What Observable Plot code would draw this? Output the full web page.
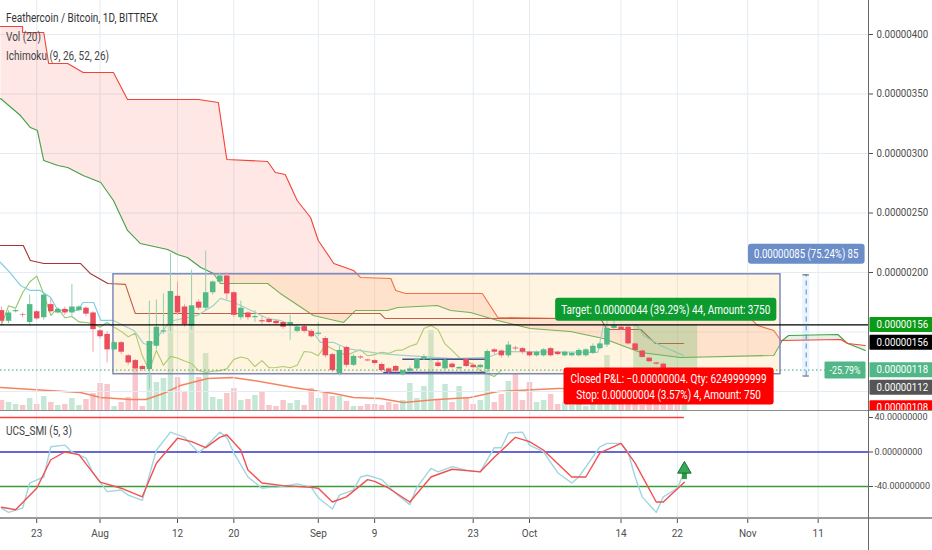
<!DOCTYPE html>
<html><head><meta charset="utf-8">
<script src="https://cdn.jsdelivr.net/npm/d3@7"></script>
<script src="https://cdn.jsdelivr.net/npm/@observablehq/plot@0.6"></script>
<style>
html,body{margin:0;padding:0;background:#fff;}
#chart{position:relative;width:932px;height:550px;overflow:hidden;font-family:Roboto,sans-serif;}
#chart svg{position:absolute;left:0;}
.legend{position:absolute;left:6px;font-size:12.5px;line-height:14px;color:#444;transform:scaleX(0.8);transform-origin:left;white-space:nowrap;z-index:5;}
.line{position:absolute;z-index:6;}
</style></head><body><div id="chart"></div><script>
// ---------- DATA (prices in 1e-8 BTC, days counted from 2019-07-18) ----------
const open  = [168,159,167,164.5,158,167,162,173,166,169, 166,168,170,166,151,148,135,141,130,126, 121,118.5,138,150,156,180,171,155,175,170, 183,192,197,183,162,166,162,159.5,160.5,159, 158,156,150.5,154.5,150.5,148,144.5,131,115,137, 122,129,126.5,126,122.7,119,121,114,117,119, 127,126.8,124,119,123,119,127,122,120,118.5, 135,134,130,136.5,136,133,130,130,136,133, 130,130,130,130,132,136,139,153,154,154, 140,134,128,124,123,119,116,112];
const high  = [171,168,169,166,181,168,183,178,170,171, 190,172,171,167,152,150,142,142,131,127, 122,176,177,182,216,192,173,202,177,218, 193,199,200,184,176,167,168,163,162,160, 159,164,156,156,152,158,146,132,138,138, 131,130,127,127,124,120,122,118,121,128, 131,129,126,127,124,121,128,123,123,135, 136,135,142,138,137,134,134,136,137,134, 134,133,136,136,140,141,160,161,156,155, 141,135,129,125,124,120,117,119];
const low   = [157,157,166,162,155,160,160,166,165,164, 162,167,163,133,144,124,134,131,122,118, 117,102,135,148,150,164,154,152,168,168, 181,190,177,162,160,160,158,156,157,156, 152,143,149,149,145,146,128,116,113,120, 121,127,125,122,116,115,116,113,116,118, 126,125,120,118,119,118,120,119,119,116, 131,128,128,134,131,129,129,129,129,130, 129,129,129,129,131,135,137,152,151,139, 134,128,124,122,116,113,111,111];
const close = [159,166,168,164,173,161,181,167,169,166, 171,171,165,152,146,135,141,133,124,119, 118.5,142,154,151,184,166,156,172,170,183, 192,197,182,164,170,162,163,158.5,158,157, 154,158,154,150.5,146,149,130,117.6,134.5,122, 129.5,128.2,125.7,123.5,117.6,116,117,117.5,119,127, 129,127.5,121,126,120,120.2,121,120,122,133.6, 133,130,139,135.8,133,130,133,135,130,131, 133,132,134.5,135,138,140,153,155.5,152,140, 134.5,128.6,125,123,117.6,115,112.6,118];
const volume = [10,8,6,5,12,6,14,8,5,6, 12,5,11,17,27,26,4,8,13,44, 4,35,28,32,100,33,18,90,33,57, 13,11,17,22,10,11,15,19,5,4, 10,7,10,5,22,12,17,14,14,9, 4,4,6,6,5,8,6,10,27,12, 24,80,10,26,8,24,12,6,10,40, 8,16,29,36,10,28,8,10,16,6, 8,5,6,4,6,10,55,12,10,8, 6,5,14,8,6,16,6,8];
const volMaDay   = [-0.14,11.2,14.1,18.3,20.5,23,25.4,29.3,32.8,35.8,41.5,47.2,50,53.8,57.1,61.9,66.6,70.5,76.1,79,85,90.8,97];
const volMaValue = [23,18,13,11,11,17,25,32,33,30,23,17,13,12,8,11,13,19,21,22,22,21,22];

const tenkanDay   = [-0.14,1.3,2.7,4.1,5.5,7,8,10.8,11.6,13.1,14.1,15.9,18.8,20.2,21.2,24,27.8,30.1,31.1,33,34,37.8,39.6,44.3,45.3,47.2,49.1,53.8,57.1,64.2,69,71.3,84.7,85.5,90.3,91.2,93.6,96.9];
const tenkanValue = [208.4,199.2,189.1,184.9,184.9,179,168.1,168.1,174.8,174.8,159.7,159.7,151.3,140.3,138.7,159,163.9,172.3,178.2,174.8,172.3,161.3,159.7,149.6,141.2,141.2,136.1,131.9,130.3,127.7,128.6,133.6,132.8,155.5,155.5,147.1,138.7,130.3];
const kijunDay    = [-0.14,3.1,4.1,6,11.2,12.6,15.1,17.6,19,53.8,54.5,85.1,86,90.8,92.9,96.9];
const kijunValue  = [222.7,222.7,210.1,207.6,207.6,199.2,190.8,190,165.5,165.5,161.3,161.3,152.1,152.1,140.3,140.3];
const spanADay    = [-0.14,2.7,4.1,5.1,6,8,9.4,11.6,14.1,15.9,17.9,19.7,23.6,25,26.4,28.3,30.1,31.1,37.8,39.6,44.3,48.6,50.3,54.8,56.3,61.9,63.8,66.6,70.5,75.1,80.8,85.5,90.8,96.4,109.7,110.9,111.8,118.8,120.2,122.7];
const spanAValue  = [346.2,331.9,321.8,319.3,294.1,289.9,288.2,281.5,275.6,260.5,235.3,224.4,219.3,215.1,212.6,204.2,199.2,190.8,190.8,182.4,163.9,158,168.1,168.1,170.6,172.3,168.1,166.4,159.7,152.9,150.4,144.5,132.8,128.6,130.3,142.9,147.1,147.9,140.3,134.5];
const spanBDay    = [-0.14,3,3,6,6.7,9.4,11.6,15.9,17.9,28,30.8,32,37.8,38.9,40.3,42,43.9,45,47.2,50,51,55.3,56,57.4,68.3,70.5,79.8,106.4,107.4,109.7,110.7,119.2,120.2,122.7];
const spanBValue  = [406.7,406.7,401.7,401.7,375.6,375.6,368.1,368.1,345.4,345.4,342.9,295,293.3,284,282.3,260.5,246.2,226.9,207.6,201.7,195.8,195,184.9,182.4,182.4,162.2,161.3,161.3,155.5,151.3,142.9,143.7,140.3,138.7];
const laggingShift = 26;

const smiDay      = [0,1,3,4,6,7,9,10,12,13,15,17,18,20,22,24,26,28,29,31,32,33,35,37,38,39,42,44,45,47,48,50,51,52,54,56,58,59,61,62,64,66,68,70,71,72,74,75,77,79,81,82,85,86,88,89,90,91,93,94,96,97];
const smiValue    = [-65,-70,-65,-36,-29,6,8,0,-7,-24,-46,-44,-50,-56,2,23,17,-1,6,23,17,-1,-29,-42,-41,-41,-37,-41,-53,-66,-50,-44,-29,-27,-32,-48,-61,-41,-19,-23,-17,-21,-23,5,5,22,23,8,0,-24,-36,-29,6,10,10,0,-29,-52,-70,-52,-42,-23];
const signalDay   = [0,2,5,7,9,11,14,17,20,22,25,27,29,31,32,34,35,37,40,44,45,47,49,52,53,55,58,61,64,68,70,73,75,77,81,83,85,88,90,93,94,97];
const signalValue = [-64,-67,-42,-9,0,-3,-35,-42,-52,-13,16,12,5,17,20,2,-21,-36,-39,-41,-42,-58,-52,-32,-34,-42,-58,-29,-20,-23,-6,17,12,2,-29,-29,-1,10,-13,-58,-58,-35];
const smiLevels   = [40, 0, -40];
const smiArrow    = [{day: 97, value: -20}];

const timeTicks  = ["2019-07-23","2019-08-01","2019-08-12","2019-08-20","2019-09-01","2019-09-09","2019-09-23","2019-10-01","2019-10-14","2019-10-22","2019-11-01","2019-11-11"];
const priceTicks = [200, 250, 300, 350, 400];
const gridPrices = [100, 150, 200, 250, 300, 350, 400];

// drawings
const hLinePrice = 156;
const rectDrawing = {dayStart: 15.9, dayEnd: 110.65, low: 114.5, high: 198.5};
const channelLines = [{d1: 57, d2: 68.8, price: 127}, {d1: 54.3, d2: 68.8, price: 116}];
const position = {dayStart: 89.8, dayEnd: 98.9, entry: 112, target: 156, stop: 108};
const measure = {day: 114.3, from: 113, to: 198};
const axisTagValues = [156, 156, 118, 112, 108];
const labelTexts = {
  target: "Target: 0.00000044 (39.29%) 44, Amount: 3750",
  stop: "Closed P&L: \u22120.00000004. Qty: 6249999999\nStop: 0.00000004 (3.57%) 4, Amount: 750",
  measure: "0.00000085 (75.24%) 85",
  pct: "-25.79%"
};

// ---------- BUILD ----------
const t0 = Date.UTC(2019, 6, 18);
const day = d => new Date(t0 + d * 864e5);
const xDomain = [day(-0.142), day(123.15)];
const fmt8 = v => (v / 1e8).toFixed(8);
const GRID = "#e4ebf2";
const W = 932, MR = 64;

const candles = open.map((o, i) => ({date: day(i), open: o, high: high[i], low: low[i], close: close[i], volume: volume[i]}));
const ups = candles.filter(c => c.close >= c.open), downs = candles.filter(c => c.close < c.open);
const series = (ds, vs) => ds.map((d, i) => ({d, date: day(d), value: vs[i]}));
const tenkan = series(tenkanDay, tenkanValue), kijun = series(kijunDay, kijunValue);
const spanA = series(spanADay, spanAValue), spanB = series(spanBDay, spanBValue);
const volMa = series(volMaDay, volMaValue);
const lagging = close.slice(laggingShift).map((c, j) => ({date: day(j), value: c}));
const cross = 110.8;
const pinkCloud = [...spanB.filter(p => p.d <= cross), ...spanA.filter(p => p.d <= cross).reverse()];
const greenCloud = [...spanA.filter(p => p.d >= cross), ...spanB.filter(p => p.d >= cross).reverse()];
const smi = series(smiDay, smiValue), signal = series(signalDay, signalValue);
const tickDates = timeTicks.map(d => new Date(d));
const current = close[close.length - 1];

const chart = document.getElementById("chart");

// volume layer (bottom)
const volPlot = Plot.plot({
  width: W, height: 410, marginLeft: 0, marginRight: MR, marginTop: 0, marginBottom: 0,
  x: {type: "utc", domain: xDomain, axis: null},
  y: {domain: [0, 410], axis: null},
  style: {background: "transparent", overflow: "visible"},
  marks: [
    Plot.ruleX(ups, {x: "date", y1: 0, y2: "volume", stroke: "#53b987", strokeOpacity: 0.34, strokeWidth: 5.5}),
    Plot.ruleX(downs, {x: "date", y1: 0, y2: "volume", stroke: "#eb4d5c", strokeOpacity: 0.32, strokeWidth: 5.5}),
    Plot.line(volMa, {x: "date", y: "value", stroke: "#f4845f", strokeWidth: 1.4})
  ]
});
volPlot.style.top = "0px";
chart.appendChild(volPlot);

const pMid = d => day((d.dayStart + d.dayEnd) / 2);
const tagColors = ["#0b9a15", "#000000", "#52b788", "#555555", "#ff0000"];
const tagShift = [0, 17.6, 0, 10.3, 26];

const mainPlot = Plot.plot({
  width: W, height: 410, marginLeft: 0, marginRight: MR, marginTop: 0, marginBottom: 0,
  x: {type: "utc", domain: xDomain, axis: null},
  y: {domain: [84.03, 428.57]},
  style: {background: "transparent", overflow: "visible", fontFamily: "Roboto, sans-serif", fontSize: "10px", color: "#4d4d4d"},
  marks: [
    Plot.ruleX(tickDates, {stroke: GRID}),
    Plot.ruleY(gridPrices, {stroke: GRID}),
    Plot.line(pinkCloud, {x: "date", y: "value", fill: "#f44336", fillOpacity: 0.13, stroke: "none"}),
    Plot.line(greenCloud, {x: "date", y: "value", fill: "#4caf50", fillOpacity: 0.15, stroke: "none"}),
    Plot.line(spanA, {x: "date", y: "value", stroke: "#43a047", strokeWidth: 1.1}),
    Plot.line(spanB, {x: "date", y: "value", stroke: "#f44336", strokeWidth: 1.1}),
    Plot.line(lagging, {x: "date", y: "value", stroke: "#8fc766", strokeWidth: 1.1}),
    Plot.line(kijun, {x: "date", y: "value", stroke: "#a83232", strokeWidth: 1.1}),
    Plot.line(tenkan, {x: "date", y: "value", stroke: "#7fcfe0", strokeWidth: 1.2}),
    Plot.rect([rectDrawing], {x1: d => day(d.dayStart), x2: d => day(d.dayEnd), y1: "low", y2: "high", fill: "#ffd98c", fillOpacity: 0.28}),
    Plot.rect([rectDrawing], {x1: d => day(d.dayStart), x2: d => day(d.dayEnd), y1: "low", y2: "high", fill: "none", stroke: "#7f88bd", strokeWidth: 1.5}),
    Plot.ruleY(channelLines, {x1: d => day(d.d1), x2: d => day(d.d2), y: "price", stroke: "#4a4f8c", strokeWidth: 1.5}),
    Plot.rect([position], {x1: d => day(d.dayStart), x2: d => day(d.dayEnd), y1: "entry", y2: "target", fill: "#4caf50", fillOpacity: 0.25}),
    Plot.rect([position], {x1: d => day(d.dayStart), x2: d => day(d.dayEnd), y1: "stop", y2: "entry", fill: "#f44336", fillOpacity: 0.25}),
    Plot.ruleX(ups, {x: "date", y1: "low", y2: "high", stroke: "#8fd0b2", strokeWidth: 1}),
    Plot.ruleX(downs, {x: "date", y1: "low", y2: "high", stroke: "#f2a0a8", strokeWidth: 1}),
    Plot.ruleX(ups, {x: "date", y1: "open", y2: "close", stroke: "#53b987", strokeWidth: 5.5}),
    Plot.ruleX(downs, {x: "date", y1: "open", y2: "close", stroke: "#eb4d5c", strokeWidth: 5.5}),
    Plot.ruleY([hLinePrice], {stroke: "#000", strokeWidth: 1.3}),
    Plot.ruleY([current], {stroke: "#3aa56f", strokeDasharray: "1.5,2.5"}),
    Plot.rect([measure], {x1: d => day(d.day - 0.5), x2: d => day(d.day + 0.5), y1: "from", y2: "to", fill: "#2196f3", fillOpacity: 0.1}),
    Plot.ruleX([measure], {x: d => day(d.day), y1: "from", y2: "to", stroke: "#6383c4", strokeDasharray: "5,4"}),
    Plot.ruleY([measure], {y: "from", x1: d => day(d.day - 0.45), x2: d => day(d.day + 0.45), stroke: "#555"}),
    Plot.ruleY([measure], {y: "to", x1: d => day(d.day - 0.45), x2: d => day(d.day + 0.45), stroke: "#555"}),
    Plot.axisY(priceTicks, {anchor: "right", tickFormat: fmt8, tickSize: 4, tickPadding: 4, label: null}),
    Plot.text([position], {x: pMid, y: "target", text: () => labelTexts.target, dy: -15, fill: "white", fontSize: 12.5, ariaDescription: "tv-target"}),
    Plot.text([position], {x: d => day((d.dayStart + d.dayEnd) / 2 + 0.4), y: "stop", text: () => labelTexts.stop, dy: 3.5, lineHeight: 1.28, fill: "white", fontSize: 12.5, ariaDescription: "tv-stop"}),
    Plot.text([measure], {x: d => day(d.day), y: "to", text: () => labelTexts.measure, dy: -21, fill: "white", fontSize: 12, ariaDescription: "tv-measure"}),
    Plot.text([current], {y: d => d, frameAnchor: "right", text: () => labelTexts.pct, textAnchor: "end", dx: -8, fill: "white", fontSize: 11, ariaDescription: "tv-pct"}),
    ...axisTagValues.map((v, i) => Plot.text([v], {y: d => d, frameAnchor: "right", text: d => fmt8(d), textAnchor: "start", dx: 8, dy: tagShift[i], fill: "white", fontSize: 10, ariaDescription: "tag-" + i}))
  ]
});
mainPlot.style.top = "0px";
chart.appendChild(mainPlot);

const smiPlot = Plot.plot({
  width: W, height: 140, marginLeft: 0, marginRight: MR, marginTop: 0, marginBottom: 32,
  x: {type: "utc", domain: xDomain},
  y: {domain: [-77.1, 48.1]},
  style: {background: "#fff", overflow: "visible", fontFamily: "Roboto, sans-serif", fontSize: "10px", color: "#4d4d4d"},
  marks: [
    Plot.ruleX(tickDates, {stroke: GRID}),
    Plot.ruleY([smiLevels[0]], {x1: day(-0.142), x2: day(97), stroke: "#ff3b3b", strokeWidth: 1.3}),
    Plot.ruleY([smiLevels[1]], {stroke: "#3434c8", strokeWidth: 1.3}),
    Plot.ruleY([smiLevels[2]], {stroke: "#3b9b3b", strokeWidth: 1.3}),
    Plot.line(smi, {x: "date", y: "value", stroke: "#9fd6e0", strokeWidth: 1.4}),
    Plot.line(signal, {x: "date", y: "value", stroke: "#f25050", strokeWidth: 1.4}),
    Plot.ruleX(smiArrow, {x: d => day(d.day), y1: d => d.value - 4, y2: d => d.value - 12, stroke: "#2e9b45", strokeWidth: 5}),
    Plot.dot(smiArrow, {x: d => day(d.day), y: "value", symbol: "triangle", r: 5, fill: "#35a853", stroke: "#1d6b30", strokeWidth: 1}),
    Plot.axisY(smiLevels, {anchor: "right", tickFormat: v => v.toFixed(8), tickSize: 4, tickPadding: 2, fontSize: 9, label: null}),
    Plot.axisX(tickDates, {anchor: "bottom", tickSize: 5, tickPadding: 6, label: null,
      tickFormat: d => d.getUTCDate() === 1 ? d3.utcFormat("%b")(d) : String(d.getUTCDate())})
  ]
});
smiPlot.style.top = "410px";
chart.appendChild(smiPlot);

// ---------- label boxes & text narrowing ----------
const NS = "http://www.w3.org/2000/svg";
function narrow(el, factor) {
  const w = el.getComputedTextLength();
  if (!w) return;
  el.setAttribute("textLength", (w * factor).toFixed(1));
  el.setAttribute("lengthAdjust", "spacingAndGlyphs");
}
mainPlot.querySelectorAll('g[aria-description^="tv-"] text').forEach(t => {
  const parts = t.querySelectorAll("tspan");
  (parts.length ? [...parts] : [t]).forEach(p => narrow(p, 0.8));
});
mainPlot.querySelectorAll("text").forEach(t => { if (/^0\.\d{8}$/.test(t.textContent)) narrow(t, 0.97); });

function addBox(svg, label, fill, padX, padY, rx, rightEdge) {
  const g = svg.querySelector(`g[aria-description="${label}"]`);
  if (!g) return;
  const bb = g.getBBox();
  const r = document.createElementNS(NS, "rect");
  const x = bb.x - padX;
  const w = rightEdge != null ? rightEdge - x : bb.width + 2 * padX;
  r.setAttribute("x", x); r.setAttribute("y", bb.y - padY);
  r.setAttribute("width", w); r.setAttribute("height", bb.height + 2 * padY);
  r.setAttribute("rx", rx); r.setAttribute("fill", fill); r.setAttribute("stroke", "none");
  g.insertBefore(r, g.firstChild);
}
addBox(mainPlot, "tv-target", "#0b9b2f", 6, 4, 3);
addBox(mainPlot, "tv-stop", "#ff0000", 7, 3, 3);
addBox(mainPlot, "tv-measure", "#6b8dc8", 6, 3, 3);
addBox(mainPlot, "tv-pct", "#52b788", 5, 2, 1);
tagColors.forEach((c, i) => addBox(mainPlot, "tag-" + i, c, 7, 2, 1, W));

// ---------- legends & pane borders ----------
function div(cls, css, txt) { const e = document.createElement("div"); e.className = cls; e.style.cssText = css; if (txt) e.textContent = txt; chart.appendChild(e); }
div("legend", "top:11px;color:#333;", "Feathercoin / Bitcoin, 1D, BITTREX");
div("legend", "top:30px;", "Vol (20)");
div("legend", "top:49px;", "Ichimoku (9, 26, 52, 26)");
div("legend", "top:424px;", "UCS_SMI (5, 3)");
div("line", "left:0;top:410px;width:932px;height:1px;background:#8c8c8c;");
div("line", "left:0;top:517px;width:932px;height:2px;background:#9a9a9a;");
div("line", "left:868px;top:0;width:1px;height:550px;background:#6a6a6a;");
</script></body></html>
